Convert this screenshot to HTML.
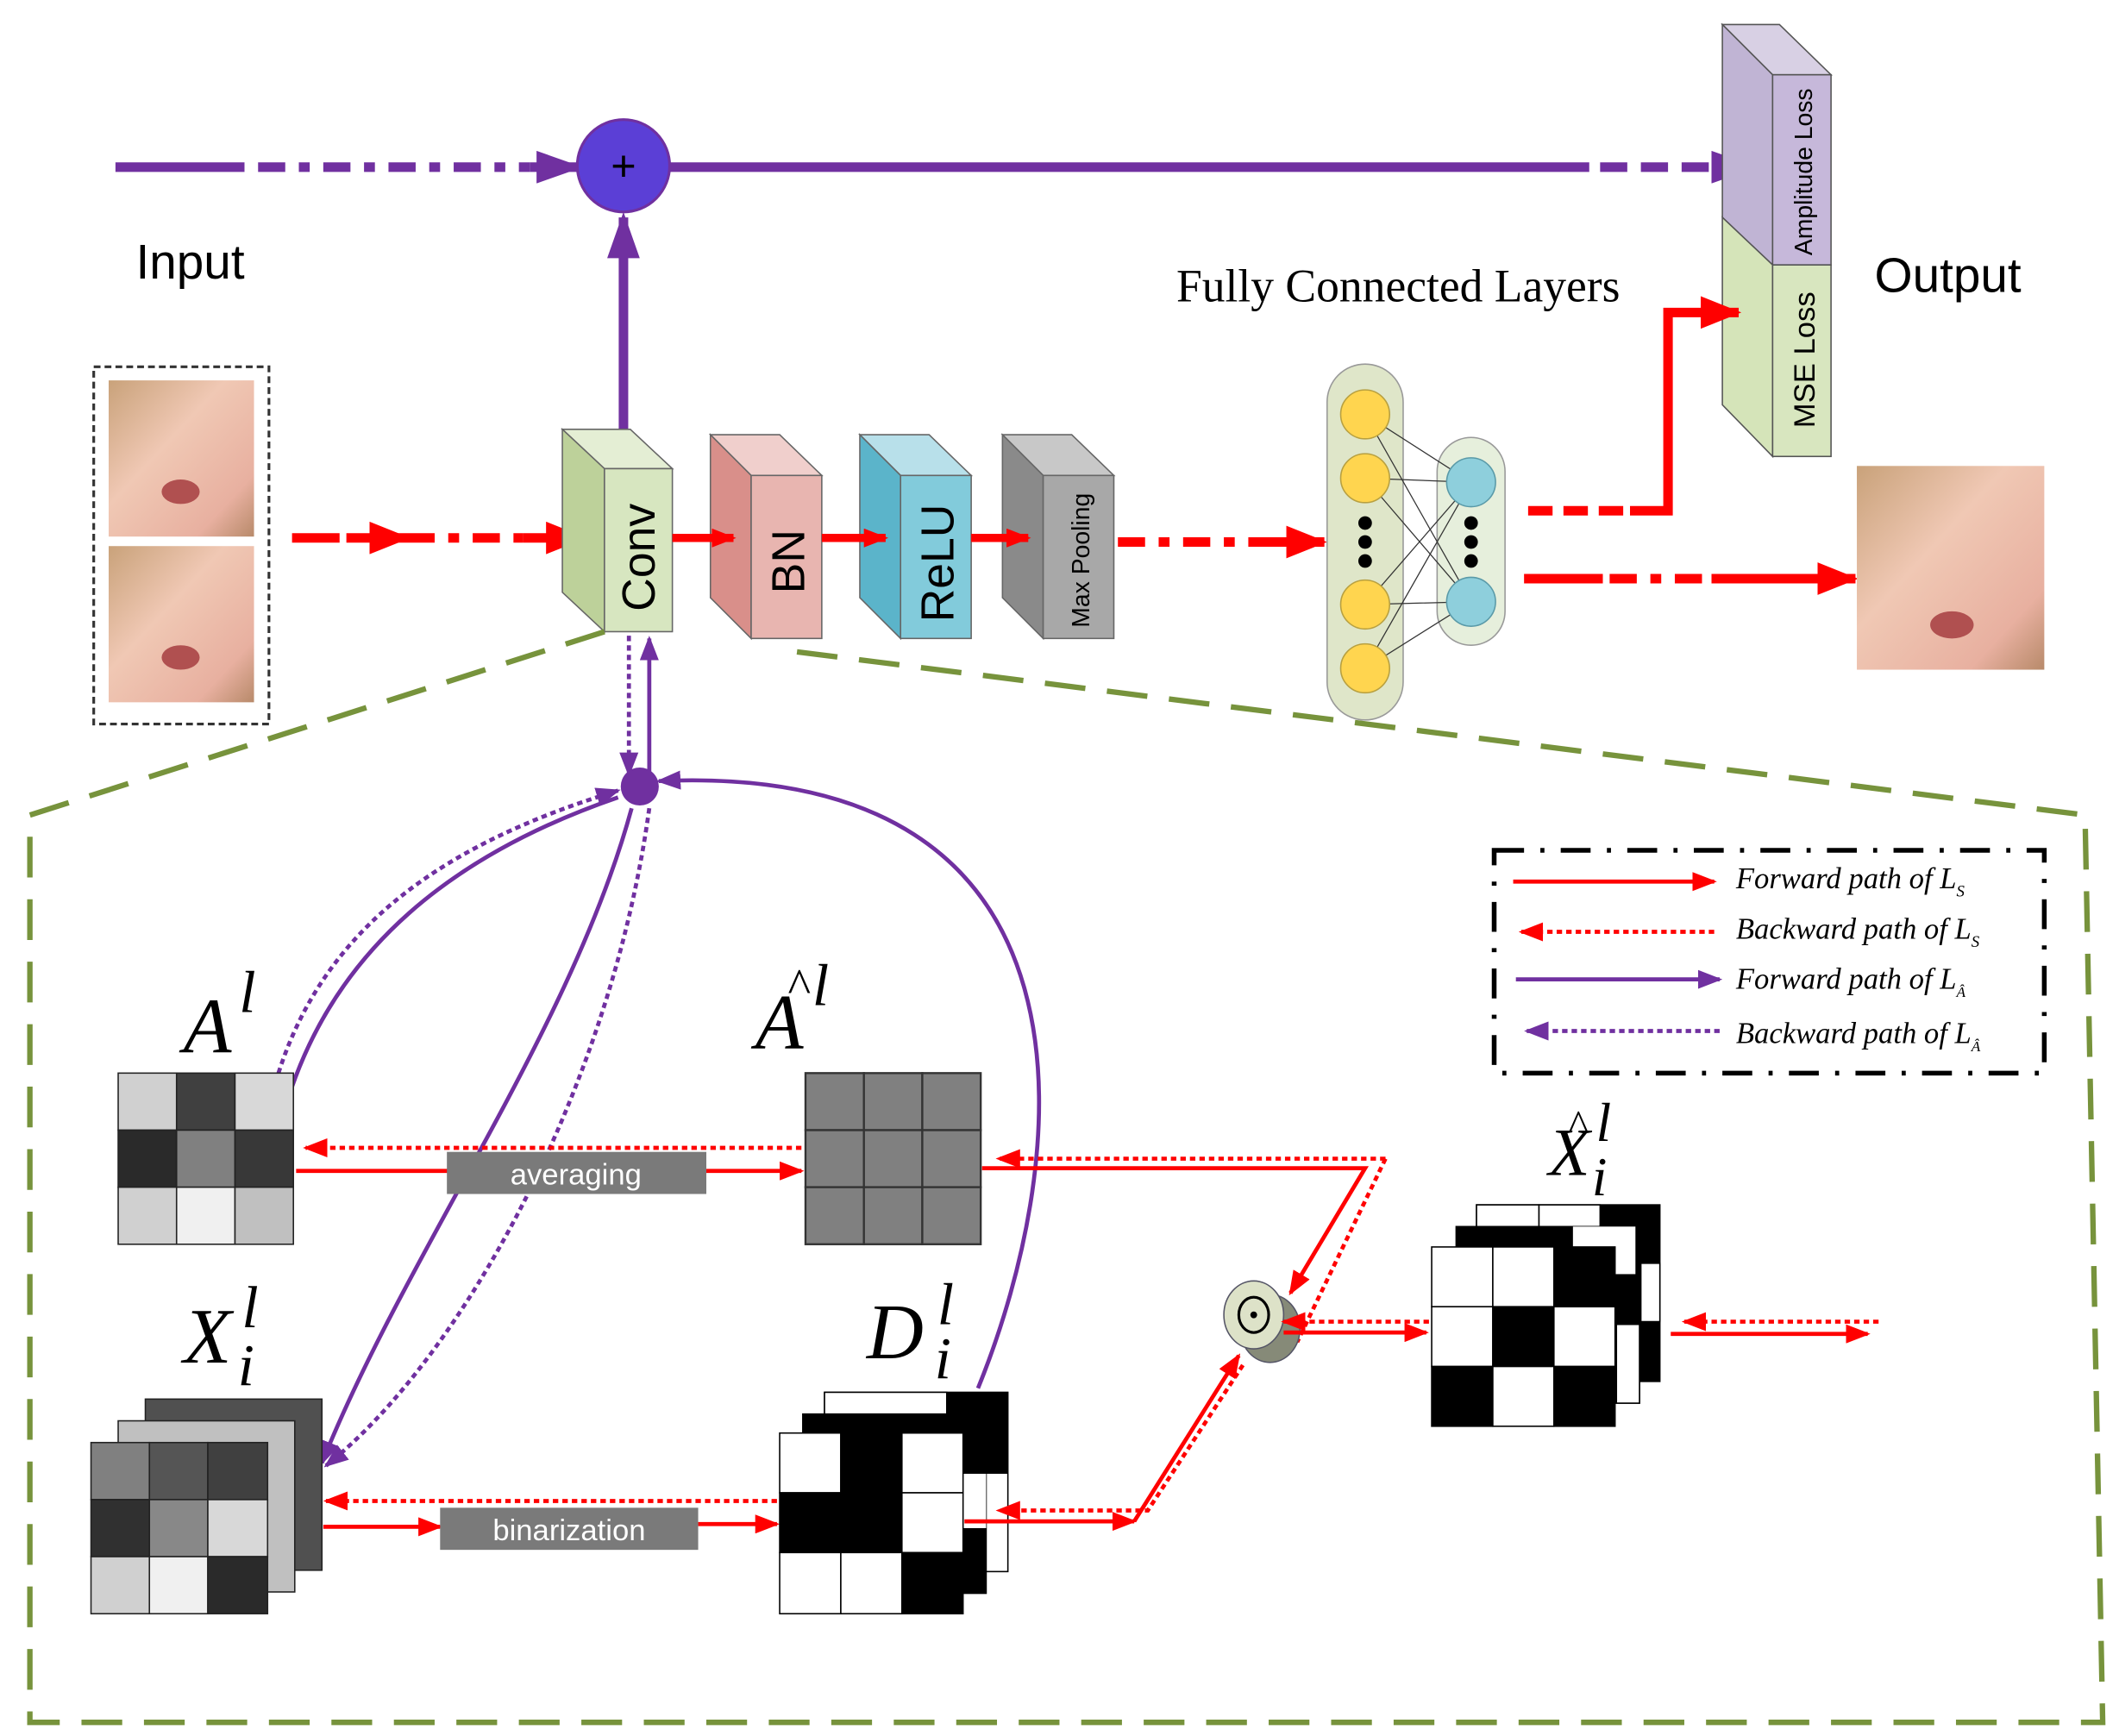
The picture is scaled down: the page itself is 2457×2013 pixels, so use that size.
<!DOCTYPE html>
<html><head><meta charset="utf-8"><style>html,body{margin:0;padding:0;background:#fff}svg{display:block}</style></head><body>
<svg width="2457" height="2013" viewBox="0 0 1560 1278" xmlns="http://www.w3.org/2000/svg" font-family="Liberation Sans, sans-serif">
<defs>
<marker id="pB" markerWidth="34" markerHeight="24" refX="30" refY="12" orient="auto" markerUnits="userSpaceOnUse"><path d="M0,0L34,12L0,24z" fill="#7030a0"/></marker>
<marker id="pS" markerWidth="18" markerHeight="14" refX="16" refY="7" orient="auto" markerUnits="userSpaceOnUse"><path d="M0,0L18,7L0,14z" fill="#7030a0"/></marker>
<marker id="rB" markerWidth="30" markerHeight="24" refX="28" refY="12" orient="auto" markerUnits="userSpaceOnUse"><path d="M0,0L30,12L0,24z" fill="#f00"/></marker>
<marker id="rS" markerWidth="18" markerHeight="14" refX="16" refY="7" orient="auto" markerUnits="userSpaceOnUse"><path d="M0,0L18,7L0,14z" fill="#f00"/></marker>
<linearGradient id="face" x1="0" y1="0" x2="1" y2="1"><stop offset="0" stop-color="#c9a27a"/><stop offset="0.4" stop-color="#f0c8b4"/><stop offset="0.8" stop-color="#e8b0a0"/><stop offset="1" stop-color="#b88a6a"/></linearGradient>
</defs>
<path d="M85,123H180" stroke="#7030a0" stroke-width="7"/>
<path d="M190,123H390" stroke="#7030a0" stroke-width="7" stroke-dasharray="20,10,8,10"/>
<path d="M390,123H425" stroke="#7030a0" stroke-width="7" marker-end="url(#pB)"/>
<path d="M493,123H1170" stroke="#7030a0" stroke-width="7"/>
<path d="M1178,123H1290" stroke="#7030a0" stroke-width="7" stroke-dasharray="20,10" marker-end="url(#pB)"/>
<circle cx="459" cy="122" r="34" fill="#5b3fd6" stroke="#7030a0" stroke-width="2"/>
<text x="459" y="133" font-size="32" text-anchor="middle" fill="#000">+</text>
<path d="M459,330V160" stroke="#7030a0" stroke-width="7" marker-end="url(#pB)"/>
<text x="100" y="205" font-size="36">Input</text>
<text x="866" y="222" font-size="34" font-family="Liberation Serif, serif">Fully Connected Layers</text>
<text x="1380" y="215" font-size="36">Output</text>
<polygon points="1268,18 1310,18 1348,55 1305,55" fill="#d8d0e4" stroke="#555"/>
<polygon points="1268,18 1305,55 1305,195 1268,160" fill="#c0b4d4" stroke="#555"/>
<polygon points="1268,160 1305,195 1305,336 1268,298" fill="#d5e4b9" stroke="#555"/>
<rect x="1305" y="55" width="43" height="140" fill="#c6b8da" stroke="#555"/>
<rect x="1305" y="195" width="43" height="141" fill="#d8e6bf" stroke="#555"/>
<text transform="translate(1334,188) rotate(-90)" font-size="18">Amplitude Loss</text>
<text transform="translate(1336,315) rotate(-90)" font-size="22">MSE Loss</text>
<path d="M1125,376H1200" stroke="#f00" stroke-width="7" stroke-dasharray="18,8"/>
<path d="M1200,376H1228V230H1280" stroke="#f00" stroke-width="7" fill="none" marker-end="url(#rB)"/>
<path d="M1122,426H1180" stroke="#f00" stroke-width="7"/>
<path d="M1185,426H1260" stroke="#f00" stroke-width="7" stroke-dasharray="20,10,8,10"/>
<path d="M1260,426H1366" stroke="#f00" stroke-width="7" marker-end="url(#rB)"/>
<rect x="69" y="270" width="129" height="263" fill="none" stroke="#333" stroke-width="2" stroke-dasharray="5,3"/>
<rect x="80" y="280" width="107" height="115" fill="url(#face)"/>
<rect x="80" y="402" width="107" height="115" fill="url(#face)"/>
<rect x="1367" y="343" width="138" height="150" fill="url(#face)"/>
<ellipse cx="133" cy="362" rx="14" ry="9" fill="#b05050"/>
<ellipse cx="133" cy="484" rx="14" ry="9" fill="#b05050"/>
<ellipse cx="1437" cy="460" rx="16" ry="10" fill="#b05050"/>
<path d="M215,396H250" stroke="#f00" stroke-width="7"/>
<path d="M255,396H300" stroke="#f00" stroke-width="7" marker-end="url(#rB)"/>
<path d="M300,396H385" stroke="#f00" stroke-width="7" stroke-dasharray="20,10,8,10"/>
<path d="M385,396H430" stroke="#f00" stroke-width="7" marker-end="url(#rB)"/>
<polygon points="414,316 464,316 495,345 445,345" fill="#e4eed4" stroke="#666"/>
<polygon points="414,316 445,345 445,465 414,436" fill="#bdd19a" stroke="#666"/>
<rect x="445" y="345" width="50" height="120" fill="#d7e6c0" stroke="#666"/>
<text transform="translate(482,450) rotate(-90)" font-size="34">Conv</text>
<polygon points="523,320 574,320 605,350 553,350" fill="#f0cfcc" stroke="#666"/>
<polygon points="523,320 553,350 553,470 523,440" fill="#d98f8a" stroke="#666"/>
<rect x="553" y="350" width="52" height="120" fill="#e8b5b0" stroke="#666"/>
<text transform="translate(592,437) rotate(-90)" font-size="34">BN</text>
<polygon points="633,320 684,320 715,350 663,350" fill="#b8e0ea" stroke="#666"/>
<polygon points="633,320 663,350 663,470 633,440" fill="#5bb4ca" stroke="#666"/>
<rect x="663" y="350" width="52" height="120" fill="#82cbdb" stroke="#666"/>
<text transform="translate(702,458) rotate(-90)" font-size="34">ReLU</text>
<polygon points="738,320 789,320 820,350 768,350" fill="#c8c8c8" stroke="#666"/>
<polygon points="738,320 768,350 768,470 738,440" fill="#8a8a8a" stroke="#666"/>
<rect x="768" y="350" width="52" height="120" fill="#a8a8a8" stroke="#666"/>
<text transform="translate(802,462) rotate(-90)" font-size="18">Max Pooling</text>
<path d="M495,396H540" stroke="#f00" stroke-width="6" marker-end="url(#rS)"/>
<path d="M605,396H652" stroke="#f00" stroke-width="6" marker-end="url(#rS)"/>
<path d="M715,396H757" stroke="#f00" stroke-width="6" marker-end="url(#rS)"/>
<path d="M823,399H930" stroke="#f00" stroke-width="7" stroke-dasharray="20,10,8,10"/>
<path d="M925,399H975" stroke="#f00" stroke-width="7" marker-end="url(#rB)"/>
<rect x="977" y="268" width="56" height="262" rx="28" fill="#dfe6c9" stroke="#999"/>
<rect x="1058" y="322" width="50" height="153" rx="25" fill="#e6efdc" stroke="#999"/>
<g stroke="#333" stroke-width="0.8">
<path d="M1005,305L1083,355M1005,305L1083,443M1005,352L1083,355M1005,352L1083,443M1005,445L1083,355M1005,445L1083,443M1005,492L1083,355M1005,492L1083,443"/>
</g>
<g fill="#ffd54f" stroke="#b8a040"><circle cx="1005" cy="305" r="18"/><circle cx="1005" cy="352" r="18"/><circle cx="1005" cy="445" r="18"/><circle cx="1005" cy="492" r="18"/></g>
<g fill="#8ecfdc" stroke="#5a9aa8"><circle cx="1083" cy="355" r="18"/><circle cx="1083" cy="443" r="18"/></g>
<g fill="#000"><circle cx="1005" cy="385" r="5"/><circle cx="1005" cy="399" r="5"/><circle cx="1005" cy="413" r="5"/><circle cx="1083" cy="385" r="5"/><circle cx="1083" cy="399" r="5"/><circle cx="1083" cy="413" r="5"/></g>
<path d="M445,465L22,600V1268H1548L1535,600L572,478" fill="none" stroke="#77933c" stroke-width="4" stroke-dasharray="30,16"/>
<path d="M463,468V570" stroke="#7030a0" stroke-width="3" stroke-dasharray="4,3" marker-end="url(#pS)"/>
<path d="M478,572V470" stroke="#7030a0" stroke-width="3" marker-end="url(#pS)"/>
<circle cx="471" cy="579" r="14" fill="#7030a0"/>
<path d="M205,790C240,680 330,620 455,582" stroke="#7030a0" stroke-width="3" fill="none" stroke-dasharray="4,3" marker-end="url(#pS)"/>
<path d="M215,800C250,700 330,630 455,587" stroke="#7030a0" stroke-width="3" fill="none"/>
<path d="M465,595C420,760 300,920 237,1077" stroke="#7030a0" stroke-width="3" fill="none" marker-end="url(#pS)"/>
<path d="M478,595C450,800 340,1000 240,1079" stroke="#7030a0" stroke-width="3" fill="none" stroke-dasharray="4,3" marker-end="url(#pS)"/>
<path d="M720,1022C790,850 820,560 485,575" stroke="#7030a0" stroke-width="3" fill="none" marker-end="url(#pS)"/>
<g stroke="#222" stroke-width="1">
<rect x="87" y="790" width="43" height="42" fill="#d0d0d0"/><rect x="130" y="790" width="43" height="42" fill="#404040"/><rect x="173" y="790" width="43" height="42" fill="#d8d8d8"/>
<rect x="87" y="832" width="43" height="42" fill="#2a2a2a"/><rect x="130" y="832" width="43" height="42" fill="#808080"/><rect x="173" y="832" width="43" height="42" fill="#383838"/>
<rect x="87" y="874" width="43" height="42" fill="#d0d0d0"/><rect x="130" y="874" width="43" height="42" fill="#f0f0f0"/><rect x="173" y="874" width="43" height="42" fill="#c0c0c0"/>
</g>
<text x="135" y="775" font-size="58" font-style="italic" font-family="Liberation Serif, serif">A</text>
<text x="176" y="745" font-size="44" font-style="italic" font-family="Liberation Serif, serif">l</text>
<g fill="#808080" stroke="#333" stroke-width="1.5">
<rect x="593" y="790" width="43" height="42"/><rect x="636" y="790" width="43" height="42"/><rect x="679" y="790" width="43" height="42"/>
<rect x="593" y="832" width="43" height="42"/><rect x="636" y="832" width="43" height="42"/><rect x="679" y="832" width="43" height="42"/>
<rect x="593" y="874" width="43" height="42"/><rect x="636" y="874" width="43" height="42"/><rect x="679" y="874" width="43" height="42"/>
</g>
<text x="556" y="772" font-size="58" font-style="italic" font-family="Liberation Serif, serif">A</text>
<text x="580" y="738" font-size="36" font-family="Liberation Serif, serif">^</text>
<text x="598" y="740" font-size="44" font-style="italic" font-family="Liberation Serif, serif">l</text>
<path d="M590,845H225" stroke="#f00" stroke-width="3" stroke-dasharray="4,3" marker-end="url(#rS)"/>
<path d="M218,862H330" stroke="#f00" stroke-width="3"/>
<path d="M520,862H590" stroke="#f00" stroke-width="3" marker-end="url(#rS)"/>
<rect x="329" y="848" width="191" height="31" fill="#7a7a7a"/>
<text x="424" y="872" font-size="22" fill="#fff" text-anchor="middle">averaging</text>
<rect x="107" y="1030" width="130" height="126" fill="#505050" stroke="#222"/>
<rect x="87" y="1046" width="130" height="126" fill="#c0c0c0" stroke="#222"/>
<g stroke="#222" stroke-width="1">
<rect x="67" y="1062" width="43" height="42" fill="#808080"/><rect x="110" y="1062" width="43" height="42" fill="#555"/><rect x="153" y="1062" width="44" height="42" fill="#404040"/>
<rect x="67" y="1104" width="43" height="42" fill="#303030"/><rect x="110" y="1104" width="43" height="42" fill="#888"/><rect x="153" y="1104" width="44" height="42" fill="#d8d8d8"/>
<rect x="67" y="1146" width="43" height="42" fill="#d0d0d0"/><rect x="110" y="1146" width="43" height="42" fill="#f0f0f0"/><rect x="153" y="1146" width="44" height="42" fill="#2a2a2a"/>
</g>
<text x="135" y="1003" font-size="58" font-style="italic" font-family="Liberation Serif, serif">X</text>
<text x="178" y="977" font-size="44" font-style="italic" font-family="Liberation Serif, serif">l</text>
<text x="175" y="1020" font-size="44" font-style="italic" font-family="Liberation Serif, serif">i</text>
<path d="M572,1105H240" stroke="#f00" stroke-width="3" stroke-dasharray="4,3" marker-end="url(#rS)"/>
<path d="M238,1124H324" stroke="#f00" stroke-width="3" marker-end="url(#rS)"/>
<path d="M514,1122H572" stroke="#f00" stroke-width="3" marker-end="url(#rS)"/>
<rect x="324" y="1110" width="190" height="31" fill="#7a7a7a"/>
<text x="419" y="1134" font-size="22" fill="#fff" text-anchor="middle">binarization</text>
<rect x="607" y="1025" width="135" height="132" fill="#fff" stroke="#000"/>
<rect x="607" y="1025" width="90" height="20" fill="#fff" stroke="#000"/><rect x="697" y="1025" width="45" height="60" fill="#000"/>
<rect x="591" y="1041" width="135" height="132" fill="#000" stroke="#000"/>
<rect x="700" y="1085" width="26" height="40" fill="#fff"/>
<g stroke="#000" stroke-width="1">
<rect x="574" y="1055" width="45" height="44" fill="#fff"/><rect x="619" y="1055" width="45" height="44" fill="#000"/><rect x="664" y="1055" width="45" height="44" fill="#fff"/>
<rect x="574" y="1099" width="45" height="44" fill="#000"/><rect x="619" y="1099" width="45" height="44" fill="#000"/><rect x="664" y="1099" width="45" height="44" fill="#fff"/>
<rect x="574" y="1143" width="45" height="45" fill="#fff"/><rect x="619" y="1143" width="45" height="45" fill="#fff"/><rect x="664" y="1143" width="45" height="45" fill="#000"/>
</g>
<text x="638" y="1000" font-size="58" font-style="italic" font-family="Liberation Serif, serif">D</text>
<text x="690" y="975" font-size="44" font-style="italic" font-family="Liberation Serif, serif">l</text>
<text x="688" y="1015" font-size="44" font-style="italic" font-family="Liberation Serif, serif">i</text>
<path d="M1020,853H735" stroke="#f00" stroke-width="3" stroke-dasharray="4,3" marker-end="url(#rS)"/>
<path d="M1020,853L955,988" stroke="#f00" stroke-width="3" stroke-dasharray="4,3"/>
<path d="M723,860H1005L950,952" stroke="#f00" stroke-width="3" fill="none" marker-end="url(#rS)"/>
<path d="M915,1005L845,1112H735" stroke="#f00" stroke-width="3" fill="none" stroke-dasharray="4,3" marker-end="url(#rS)"/>
<path d="M710,1120H835" stroke="#f00" stroke-width="3" marker-end="url(#rS)"/>
<path d="M835,1120L912,998" stroke="#f00" stroke-width="3" fill="none" marker-end="url(#rS)"/>
<ellipse cx="935" cy="978" rx="22" ry="25" fill="#868a78" stroke="#556"/>
<ellipse cx="923" cy="968" rx="22" ry="25" fill="#dde2c8" stroke="#556"/>
<ellipse cx="923" cy="968" rx="11" ry="13" fill="none" stroke="#000" stroke-width="2"/>
<circle cx="923" cy="968" r="2.5" fill="#000"/>
<path d="M1052,973H945" stroke="#f00" stroke-width="3" stroke-dasharray="4,3" marker-end="url(#rS)"/>
<path d="M945,981H1050" stroke="#f00" stroke-width="3" marker-end="url(#rS)"/>
<rect x="1087" y="887" width="135" height="130" fill="#000" stroke="#000"/>
<rect x="1087" y="887" width="46" height="22" fill="#fff" stroke="#000"/><rect x="1133" y="887" width="45" height="22" fill="#fff" stroke="#000"/>
<rect x="1208" y="930" width="14" height="43" fill="#fff" stroke="#000"/>
<rect x="1072" y="903" width="135" height="130" fill="#000" stroke="#000"/>
<rect x="1158" y="903" width="46" height="35" fill="#fff"/><rect x="1190" y="975" width="17" height="58" fill="#fff" stroke="#000"/>
<g stroke="#000" stroke-width="1">
<rect x="1054" y="918" width="45" height="44" fill="#fff"/><rect x="1099" y="918" width="45" height="44" fill="#fff"/><rect x="1144" y="918" width="45" height="44" fill="#000"/>
<rect x="1054" y="962" width="45" height="44" fill="#fff"/><rect x="1099" y="962" width="45" height="44" fill="#000"/><rect x="1144" y="962" width="45" height="44" fill="#fff"/>
<rect x="1054" y="1006" width="45" height="44" fill="#000"/><rect x="1099" y="1006" width="45" height="44" fill="#fff"/><rect x="1144" y="1006" width="45" height="44" fill="#000"/>
</g>
<text x="1140" y="865" font-size="50" font-style="italic" font-family="Liberation Serif, serif">X</text>
<text x="1155" y="838" font-size="30" font-family="Liberation Serif, serif">^</text>
<text x="1175" y="840" font-size="40" font-style="italic" font-family="Liberation Serif, serif">l</text>
<text x="1172" y="880" font-size="40" font-style="italic" font-family="Liberation Serif, serif">i</text>
<path d="M1383,973H1240" stroke="#f00" stroke-width="3" stroke-dasharray="4,3" marker-end="url(#rS)"/>
<path d="M1230,982H1375" stroke="#f00" stroke-width="3" marker-end="url(#rS)"/>
<rect x="1100" y="626" width="405" height="164" fill="none" stroke="#000" stroke-width="3.5" stroke-dasharray="22,12,3,12"/>
<g font-family="Liberation Serif, serif" font-style="italic" font-size="22">
<path d="M1114,649H1262" stroke="#f00" stroke-width="3" marker-end="url(#rS)"/>
<text x="1278" y="654">Forward path of <tspan>L</tspan><tspan font-size="12" dy="6">S</tspan></text>
<path d="M1262,686H1120" stroke="#f00" stroke-width="3" stroke-dasharray="4,3" marker-end="url(#rS)"/>
<text x="1278" y="691">Backward path of L<tspan font-size="12" dy="6">S</tspan></text>
<path d="M1116,721H1266" stroke="#7030a0" stroke-width="3" marker-end="url(#pS)"/>
<text x="1278" y="728">Forward path of  L<tspan font-size="11" dy="6">Â</tspan></text>
<path d="M1266,759H1124" stroke="#7030a0" stroke-width="3" stroke-dasharray="4,3" marker-end="url(#pS)"/>
<text x="1278" y="768">Backward path of L<tspan font-size="11" dy="6">Â</tspan></text>
</g>
</svg>
</body></html>
